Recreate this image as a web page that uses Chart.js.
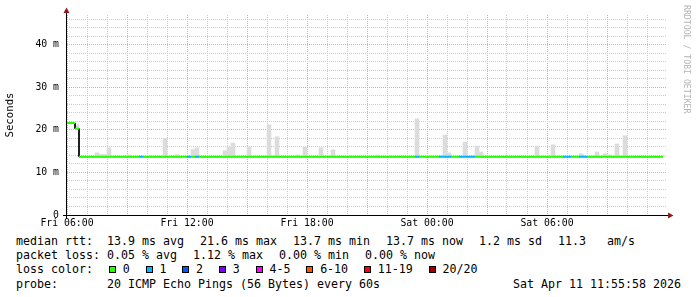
<!DOCTYPE html>
<html>
<head>
<meta charset="utf-8">
<title>Latency</title>
<script src="https://cdn.jsdelivr.net/npm/chart.js@4.4.1/dist/chart.umd.min.js"></script>
<style>
  body { margin: 0; background: #fff; width: 697px; height: 297px; overflow: hidden; position: relative;
         font-family: "DejaVu Sans Mono", monospace; }
  #chart { position: absolute; left: 0; top: 0; }
  .line { position: absolute; left: 16px; height: 14px; line-height: 14px; font-size: 11.63px; color: #000;
          white-space: pre; display: flex; gap: 16px; }
  .item { display: flex; align-items: center; }
  .swatch { width: 5px; height: 5px; border: 1px solid #000; margin: 0 6.7px 0 0; }
  #stamp { position: absolute; right: 16px; top: 277px; height: 14px; line-height: 14px; font-size: 11.63px; white-space: pre; }
  #credit { position: absolute; left: 683px; top: 5px; writing-mode: vertical-rl; font-size: 8.2px; line-height: 8px;
            color: #b4b4b4; white-space: pre; }
</style>
</head>
<body>
<canvas id="chart" width="697" height="232"></canvas>
<div id="legend"></div>
<div id="stamp"></div>
<div id="credit">RRDTOOL / TOBI OETIKER</div>
<script>
// hours since Fri 06:00, one RRD step = 12 minutes
const stepHours = 0.2;
const dataEnd = 29.8;

// median rtt (ms), as runs starting at these hours
const medianStart = [0, 0.4, 0.6];
const medianValues = [21.6, 20.3, 13.7];

// packet loss runs (pings lost out of 20)
const lossStart = [3.6, 6.0, 6.4, 17.4, 18.6, 19.6, 24.8, 25.6];
const lossEnd = [3.8, 6.2, 6.6, 17.6, 19.2, 20.4, 25.2, 26.0];
const lossCount = [1, 1, 1, 1, 1, 1, 1, 1];

// smoke: step start (hours) and highest ping (ms)
const smokeStart = [0.4, 1.4, 1.6, 1.8, 2.0, 3.0, 4.8, 5.4, 6.2, 6.4, 7.8, 8.0, 8.2, 9.0, 10.0, 10.4, 11.4, 11.8,
    12.6, 13.2, 15.4, 17.4, 18.8, 19.0, 19.8, 20.4, 20.6, 23.4, 24.2, 25.6, 26.4, 26.8, 27.0, 27.4, 27.8];
const smokeTop = [21.2, 14.6, 14.2, 14.2, 15.8, 14.1, 18.0, 14.2, 15.4, 15.8, 15.1, 16.0, 16.9, 16.0, 21.2, 18.4, 14.1, 16.0,
    15.8, 15.3, 14.1, 22.6, 18.8, 14.6, 17.1, 16.2, 14.8, 16.2, 16.5, 14.4, 14.8, 14.4, 14.1, 16.7, 18.6];

const tickHours = [0, 6, 12, 18, 24];
const tickLabels = ['Fri 06:00', 'Fri 12:00', 'Fri 18:00', 'Sat 00:00', 'Sat 06:00'];

const lossLabels = ['0', '1', '2', '3', '4-5', '6-10', '11-19', '20/20'];
const lossColors = ['#26ff00', '#00b8ff', '#0059ff', '#7e00ff', '#ff00ff', '#ff5500', '#ff0000', '#a10000'];
const lossUpper = [0, 1, 2, 3, 5, 10, 19, 20];

const statLines = [
    ['median rtt:  13.9 ms avg', '21.6 ms max', '13.7 ms min', '13.7 ms now', '1.2 ms sd', '11.3   am/s'],
    ['packet loss: 0.05 % avg', '1.12 % max', '0.00 % min', '0.00 % now']
];
const probeText = 'probe:       20 ICMP Echo Pings (56 Bytes) every 60s';
const stampText = 'Sat Apr 11 11:55:58 2026';

const minorGrid = '#cccccc';
const majorGrid = '#dfa9a9';

function medianAt(t) {
    let v = medianValues[0];
    medianStart.forEach((s, i) => { if (t >= s - 1e-9) v = medianValues[i]; });
    return v;
}

function lossAt(t) {
    for (let i = 0; i < lossStart.length; i++) {
        if (t >= lossStart[i] - 1e-9 && t < lossEnd[i] - 1e-9) return lossCount[i];
    }
    return 0;
}

function lossColor(n) {
    const i = lossUpper.findIndex(u => n <= u);
    return lossColors[i < 0 ? lossColors.length - 1 : i];
}

// median line: one horizontal piece per run (coloured by loss)
const breaks = [...new Set([...medianStart, ...lossStart, ...lossEnd, dataEnd].map(t => +t.toFixed(3)))]
    .filter(t => t <= dataEnd).sort((a, b) => a - b);
const medianPoints = [];
const runLoss = [];
for (let i = 0; i < breaks.length - 1; i++) {
    const y = medianAt(breaks[i]);
    medianPoints.push({ x: breaks[i], y: y }, { x: breaks[i + 1], y: y });
    runLoss.push(lossAt(breaks[i]));
}

const smokeData = smokeStart.map((s, i) => ({ x: s + stepHours / 2, y: [medianAt(s), smokeTop[i]] }));

// axis lines with the little arrow heads
const axisArrows = {
    id: 'axisArrows',
    afterDatasetsDraw(chart) {
        const { ctx, chartArea: a } = chart;
        ctx.save();
        ctx.strokeStyle = '#000';
        ctx.lineWidth = 1;
        ctx.beginPath();
        ctx.moveTo(a.left - 4, a.bottom + 0.5);
        ctx.lineTo(a.right + 2, a.bottom + 0.5);
        ctx.moveTo(a.left - 0.5, a.bottom + 4);
        ctx.lineTo(a.left - 0.5, a.top - 4);
        ctx.stroke();
        ctx.fillStyle = '#8e1a1a';
        ctx.beginPath();
        ctx.moveTo(a.left - 0.5, a.top - 7.5);
        ctx.lineTo(a.left - 3.5, a.top - 2);
        ctx.lineTo(a.left + 2.5, a.top - 2);
        ctx.closePath();
        ctx.fill();
        ctx.beginPath();
        ctx.moveTo(a.right + 6.5, a.bottom + 0.5);
        ctx.lineTo(a.right + 1, a.bottom - 2.5);
        ctx.lineTo(a.right + 1, a.bottom + 3.5);
        ctx.closePath();
        ctx.fill();
        ctx.restore();
    }
};

new Chart(document.getElementById('chart'), {
    type: 'bar',
    data: {
        datasets: [
            {
                type: 'line',
                label: 'median',
                data: medianPoints,
                borderColor: lossColors[0],
                borderWidth: 2,
                borderCapStyle: 'butt',
                pointRadius: 0,
                tension: 0,
                fill: false,
                order: 0,
                segment: {
                    borderColor: c => c.p0DataIndex % 2 === 0
                        ? lossColor(runLoss[c.p0DataIndex / 2])
                        : 'rgba(0,0,0,0)'
                }
            },
            {
                // thin black step line under the coloured median, shows only at the steps
                type: 'line',
                label: 'median steps',
                data: medianPoints,
                borderColor: '#000',
                borderWidth: 1,
                pointRadius: 0,
                tension: 0,
                fill: false,
                order: 1
            },
            {
                type: 'bar',
                label: 'smoke',
                data: smokeData,
                backgroundColor: '#dcdcdc',
                borderWidth: 0,
                barPercentage: 1,
                categoryPercentage: 1,
                order: 2
            }
        ]
    },
    options: {
        responsive: false,
        animation: false,
        devicePixelRatio: 1,
        layout: { padding: { left: 0, right: 30, top: 15, bottom: 0 } },
        plugins: { legend: { display: false }, tooltip: { enabled: false } },
        scales: {
            x: {
                type: 'linear',
                min: 0,
                max: 30,
                offset: false,
                afterFit: s => { s.height = 17; },
                grid: {
                    offset: false,
                    drawTicks: false,
                    color: c => c.tick.value >= 30 ? 'rgba(0,0,0,0)' : (c.tick.value % 3 === 0 ? majorGrid : minorGrid)
                },
                border: { display: false, dash: [1, 1] },
                ticks: {
                    stepSize: 1,
                    maxTicksLimit: 100,
                    autoSkip: false,
                    maxRotation: 0,
                    padding: 3,
                    color: '#000',
                    font: { family: 'DejaVu Sans Mono', size: 9.8 },
                    callback: v => {
                        const i = tickHours.indexOf(v);
                        return i < 0 ? '' : tickLabels[i];
                    }
                }
            },
            y: {
                min: 0,
                max: 47,
                afterFit: s => { s.width = 67; },
                grid: {
                    drawTicks: false,
                    color: c => c.tick.value % 10 === 0 ? majorGrid : minorGrid
                },
                border: { display: false, dash: [1, 1] },
                title: {
                    display: true,
                    text: 'Seconds',
                    color: '#000',
                    padding: { top: 4, bottom: 0 },
                    font: { family: 'DejaVu Sans Mono', size: 10.7 }
                },
                ticks: {
                    stepSize: 2,
                    includeBounds: false,
                    autoSkip: false,
                    padding: 8,
                    color: '#000',
                    font: { family: 'DejaVu Sans Mono', size: 9.8 },
                    callback: v => v % 10 !== 0 ? '' : (v === 0 ? '0' : v + ' m')
                }
            }
        }
    },
    plugins: [axisArrows]
});

// text legend under the graph
const legend = document.getElementById('legend');
const lineTops = [234, 248, 262, 277];
statLines.forEach((parts, i) => {
    const row = document.createElement('div');
    row.className = 'line';
    row.style.top = lineTops[i] + 'px';
    parts.forEach(p => {
        const span = document.createElement('span');
        span.textContent = p;
        row.appendChild(span);
    });
    legend.appendChild(row);
});

const colorRow = document.createElement('div');
colorRow.className = 'line';
colorRow.style.top = lineTops[2] + 'px';
colorRow.innerHTML = '<span>loss color:</span>';
lossLabels.forEach((label, i) => {
    const item = document.createElement('span');
    item.className = 'item';
    item.innerHTML = `<span class="swatch" style="background:${lossColors[i]}"></span><span>${label}</span>`;
    colorRow.appendChild(item);
});
legend.appendChild(colorRow);

const probeRow = document.createElement('div');
probeRow.className = 'line';
probeRow.style.top = lineTops[3] + 'px';
probeRow.textContent = probeText;
legend.appendChild(probeRow);

document.getElementById('stamp').textContent = stampText;
</script>
</body>
</html>
